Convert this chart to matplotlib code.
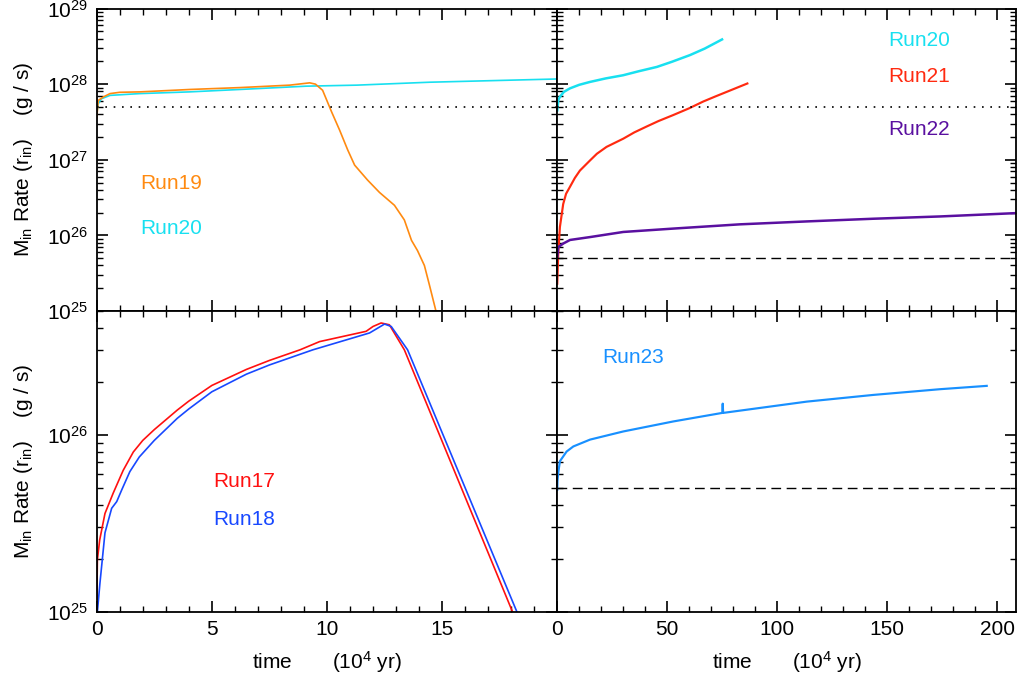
import matplotlib
matplotlib.use("Agg")
import matplotlib.pyplot as plt
from matplotlib.ticker import LogLocator, MultipleLocator, NullFormatter, FixedLocator

plt.rcParams['font.family'] = ['Liberation Sans', 'DejaVu Sans']
plt.rcParams['mathtext.fontset'] = 'custom'
plt.rcParams['mathtext.rm'] = 'Liberation Sans'
plt.rcParams['mathtext.it'] = 'Liberation Sans:italic'
plt.rcParams['mathtext.default'] = 'regular'

# ---- data (time in 10^4 yr, rate in g/s) ----
# top left
run19_t = [0.0, 0.07, 0.3, 0.58, 1.0, 1.88, 4.04, 6.21, 8.38, 9.25, 9.5, 9.81,
           10.2, 10.55, 10.9, 11.2, 11.76, 12.28, 12.93, 13.36, 13.67, 13.93, 14.23, 14.45, 14.75]
run19_m = [3.5e27, 6.1e27, 6.8e27, 7.5e27, 7.8e27, 7.9e27, 8.5e27, 9.0e27, 9.7e27, 1.04e28, 1.0e28, 8.3e27,
           4.3e27, 2.46e27, 1.35e27, 8.5e26, 5.4e26, 3.7e26, 2.5e26, 1.6e26, 8.6e25, 6.3e25, 4.0e25,
           2.2e25, 9.5e24]
run20a_t = [0.0, 0.07, 0.2, 0.58, 1.88, 4.04, 6.21, 9.1, 11.3, 14.45, 20.0]
run20a_m = [4.1e27, 5.5e27, 6.4e27, 7.1e27, 7.5e27, 7.9e27, 8.5e27, 9.4e27, 9.7e27, 1.06e28, 1.17e28]

# top right
run20_t = [0.0, 0.5, 1.2, 3.0, 5.8, 10.0, 14.9, 22.0, 29.9, 37.0, 45.3, 52.0, 60.3, 67.0, 74.9]
run20_m = [4.5e27, 6.2e27, 6.8e27, 7.9e27, 8.8e27, 9.8e27, 1.07e28, 1.19e28, 1.31e28, 1.48e28,
           1.69e28, 1.97e28, 2.42e28, 2.95e28, 3.9e28]
run21_t = [0.0, 0.45, 1.2, 2.7, 4.0, 5.8, 8.0, 10.3, 14.9, 18.0, 22.4, 30.0, 35.0, 40.6, 46.0,
           52.7, 60.0, 66.4, 72.0, 77.0, 86.4]
run21_m = [2.3e25, 5.8e25, 1.29e26, 2.6e26, 3.55e26, 4.4e26, 5.75e26, 7.2e26, 9.8e26, 1.2e27,
           1.48e27, 1.9e27, 2.3e27, 2.75e27, 3.25e27, 3.9e27, 4.8e27, 5.9e27, 6.9e27, 7.9e27, 1.02e28]
run22_t = [0.0, 0.45, 2.7, 5.8, 14.9, 30.0, 52.7, 83.0, 113.4, 143.6, 174.0, 208.5]
run22_m = [5.1e25, 7.0e25, 7.8e25, 8.7e25, 9.5e25, 1.11e26, 1.23e26, 1.40e26, 1.53e26, 1.66e26,
           1.78e26, 1.97e26]

# bottom left
run17_t = [0.0, 0.03, 0.13, 0.36, 0.72, 1.15, 1.59, 2.0, 2.5, 3.5, 4.0, 5.0, 6.5, 7.5, 8.83, 9.68,
           11.7, 12.0, 12.35, 12.71, 13.36, 18.06]
run17_m = [1.0e25, 1.97e25, 2.55e25, 3.6e25, 4.7e25, 6.3e25, 8.0e25, 9.3e25, 1.07e26, 1.38e26, 1.55e26,
           1.9e26, 2.34e26, 2.63e26, 3.02e26, 3.36e26, 3.84e26, 4.09e26, 4.28e26, 4.18e26, 3.02e26, 1.0e25]
run18_t = [0.03, 0.14, 0.36, 0.65, 0.87, 1.09, 1.44, 1.85, 2.5, 3.5, 4.0, 5.0, 6.5, 7.5, 9.39, 11.85,
           12.5, 12.79, 13.5, 18.25]
run18_m = [1.0e25, 1.45e25, 2.8e25, 3.85e25, 4.2e25, 4.9e25, 6.2e25, 7.5e25, 9.3e25, 1.24e26, 1.4e26,
           1.75e26, 2.2e26, 2.48e26, 3.02e26, 3.76e26, 4.22e26, 4.09e26, 3.02e26, 1.0e25]

# bottom right
run23_t = [0.0, 0.1, 0.45, 1.2, 4.25, 7.3, 14.9, 30.0, 52.7, 75.0, 75.2, 75.4, 113.4, 143.6, 174.0, 195.2]
run23_m = [4.9e25, 5.5e25, 6.1e25, 7.1e25, 8.05e25, 8.6e25, 9.4e25, 1.045e26, 1.19e26, 1.33e26, 1.5e26,
           1.33e26, 1.54e26, 1.68e26, 1.81e26, 1.89e26]

level_dot = 5e27
level_dash = 5e25

c_orange = '#ff8a10'
c_cyan = '#18e0f0'
c_red = '#ff2a10'
c_purple = '#5a10a0'
c_red2 = '#ff1010'
c_blue = '#1848ff'
c_sky = '#1890ff'

fig = plt.figure(figsize=(10.21, 6.81), dpi=100)
x0, xm, x1 = 0.0947, 0.5458, 0.9951
y0, ym, y1 = 0.1013, 0.5433, 0.9875
ax_tl = fig.add_axes([x0, ym, xm - x0, y1 - ym])
ax_tr = fig.add_axes([xm, ym, x1 - xm, y1 - ym])
ax_bl = fig.add_axes([x0, y0, xm - x0, ym - y0])
ax_br = fig.add_axes([xm, y0, x1 - xm, ym - y0])

lw = 1.2
ax_tl.plot(run20a_t, run20a_m, color=c_cyan, lw=lw)
ax_tl.plot(run19_t, run19_m, color=c_orange, lw=lw)
ax_tl.axhline(level_dot, color='black', lw=1.2, ls=(0, (1, 4)))
ax_tl.text(1.88, 4.9e26, 'Run19', color=c_orange, fontsize=15, va='center')
ax_tl.text(1.88, 1.24e26, 'Run20', color=c_cyan, fontsize=15, va='center')

ax_tr.plot(run20_t, run20_m, color=c_cyan, lw=lw * 1.5)
ax_tr.plot(run21_t, run21_m, color=c_red, lw=lw * 1.3)
ax_tr.plot(run22_t, run22_m, color=c_purple, lw=lw * 1.5)
ax_tr.axhline(level_dot, color='black', lw=1.2, ls=(0, (1, 4)))
ax_tr.axhline(level_dash, color='black', lw=1.0, ls=(0, (7, 4)))
ax_tr.text(150.5, 3.75e28, 'Run20', color=c_cyan, fontsize=15, va='center')
ax_tr.text(150.5, 1.28e28, 'Run21', color=c_red, fontsize=15, va='center')
ax_tr.text(150.5, 2.5e27, 'Run22', color=c_purple, fontsize=15, va='center')

ax_bl.plot(run17_t, run17_m, color=c_red2, lw=lw)
ax_bl.plot(run18_t, run18_m, color=c_blue, lw=lw)
ax_bl.text(5.04, 5.43e25, 'Run17', color=c_red2, fontsize=15, va='center')
ax_bl.text(5.04, 3.31e25, 'Run18', color=c_blue, fontsize=15, va='center')

ax_br.plot(run23_t, run23_m, color=c_sky, lw=lw * 1.3)
ax_br.axhline(level_dash, color='black', lw=1.0, ls=(0, (7, 4)))
ax_br.text(20.5, 2.75e26, 'Run23', color=c_sky, fontsize=15, va='center')

for ax in (ax_tl, ax_tr):
    ax.set_ylim(1e25, 1e29)
for ax in (ax_bl, ax_br):
    ax.set_ylim(1e25, 5e26)
for ax in (ax_tl, ax_bl):
    ax.set_xlim(0, 20)
    ax.xaxis.set_major_locator(FixedLocator([0, 5, 10, 15]))
    ax.xaxis.set_minor_locator(MultipleLocator(1))
for ax in (ax_tr, ax_br):
    ax.set_xlim(0, 208.5)
    ax.xaxis.set_major_locator(MultipleLocator(50))
    ax.xaxis.set_minor_locator(MultipleLocator(10))

for ax in (ax_tl, ax_tr, ax_bl, ax_br):
    ax.set_yscale('log')
    ax.yaxis.set_major_locator(LogLocator(base=10, numticks=20))
    ax.yaxis.set_minor_locator(LogLocator(base=10, subs=range(2, 10), numticks=20))
    ax.yaxis.set_minor_formatter(NullFormatter())
    ax.tick_params(which='both', direction='in', top=True, right=True, labelsize=15, pad=6)
    ax.tick_params(which='major', length=8, width=1.2)
    ax.tick_params(which='minor', length=4, width=1.0)
    for s in ax.spines.values():
        s.set_linewidth(1.3)

for ax in (ax_tl, ax_tr):
    ax.tick_params(labelbottom=False)
for ax in (ax_tr, ax_br):
    ax.tick_params(labelleft=False)

ylab = r'M$_{\rm in}$ Rate (r$_{\rm in}$)    (g / s)'
ax_tl.set_ylabel(ylab, fontsize=15, labelpad=9)
ax_bl.set_ylabel(ylab, fontsize=15, labelpad=9)
xlab = r'time       (10$^{4}$ yr)'
ax_bl.set_xlabel(xlab, fontsize=15, labelpad=7)
ax_br.set_xlabel(xlab, fontsize=15, labelpad=7)

fig.savefig('out.png', dpi=100)
